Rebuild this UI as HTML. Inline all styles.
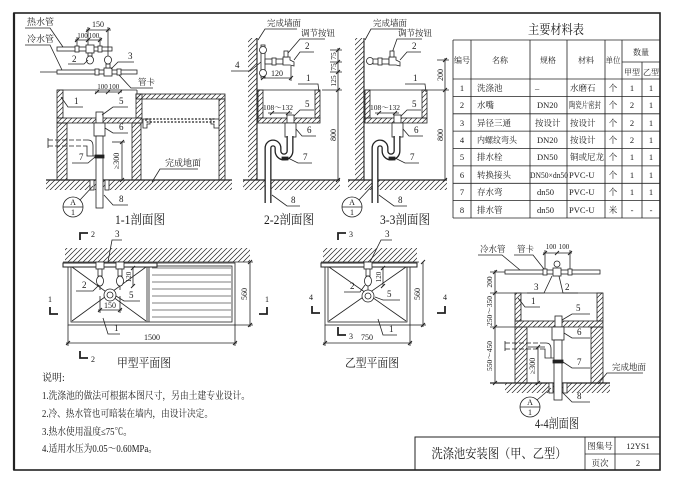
<!DOCTYPE html>
<html><head><meta charset="utf-8"><style>
html,body{margin:0;padding:0;background:#fff;}
svg{display:block;}
text{font-family:"Liberation Serif","Noto Serif CJK SC",serif;fill:#1a1a1a;stroke:none;}
.c{text-anchor:middle;}
</style></head><body>
<svg width="678" height="491" viewBox="0 0 678 491" xmlns="http://www.w3.org/2000/svg">
<defs>
<pattern id="h" patternUnits="userSpaceOnUse" width="5" height="5"><path d="M0,5 L5,0 M-1,1 L1,-1 M4,6 L6,4" stroke="#222" stroke-width="0.7"/></pattern>
</defs>
<rect width="678" height="491" fill="#fff"/>
<g stroke="#222" fill="none" stroke-width="0.8">
<!-- frame -->
<rect x="14" y="13" width="646" height="457" stroke-width="1.6"/>
<line x1="14" y1="13" x2="14" y2="470" stroke-width="2.2"/>

<!-- ============ 1-1 section ============ -->
<text x="27" y="25" font-size="9">热水管</text>
<polyline points="25,28 50,28 63,47"/>
<text x="27" y="42" font-size="9">冷水管</text>
<polyline points="25,45 50,45 62,70"/>
<line x1="40" y1="72" x2="57" y2="72"/>
<rect x="57" y="47" width="55" height="4" fill="#fff"/>
<rect x="57" y="70" width="80" height="4" fill="#fff"/>
<rect x="75" y="46" width="4" height="6" fill="#fff"/>
<rect x="98" y="46" width="4" height="6" fill="#fff"/>
<rect x="86" y="45" width="8" height="8" fill="#fff"/>
<rect x="95" y="69" width="4" height="6" fill="#fff"/>
<rect x="117" y="69" width="4" height="6" fill="#fff"/>
<rect x="104" y="68" width="8" height="8" fill="#fff"/>
<rect x="88" y="53" width="4" height="3" fill="#fff"/>
<ellipse cx="90" cy="60" rx="3.5" ry="4" fill="#fff"/>
<rect x="106" y="64" width="4" height="4" fill="#fff"/>
<ellipse cx="108" cy="60" rx="3.5" ry="4" fill="#fff"/>
<line x1="86" y1="30" x2="111" y2="30"/>
<line x1="88" y1="27" x2="88" y2="45"/>
<line x1="108" y1="27" x2="108" y2="56"/>
<text x="98" y="27" font-size="8" class="c">150</text>
<line x1="75" y1="40" x2="102" y2="40"/>
<line x1="77" y1="37" x2="77" y2="46"/>
<line x1="100" y1="37" x2="100" y2="46"/>
<text x="82.5" y="38" font-size="7" class="c">100</text>
<text x="94" y="38" font-size="7" class="c">100</text>
<path d="M86,32 l4,-4 M106,32 l4,-4 M75,42 l4,-4 M86,42 l4,-4 M98,42 l4,-4" stroke-width="1"/>
<text x="72" y="62" font-size="9">2</text>
<polyline points="68,64 84,64 88,60"/>
<text x="128" y="59" font-size="9">3</text>
<polyline points="134,62 118,62 111,69"/>
<text x="138" y="85" font-size="8.5">管卡</text>
<polyline points="153,88 131,88 119,75"/>
<line x1="95" y1="92" x2="122" y2="92"/>
<path d="M95,94 l4,-4 M106,94 l4,-4 M118,94 l4,-4" stroke-width="1"/>
<text x="102.5" y="89" font-size="7" class="c">100</text>
<text x="114" y="89" font-size="7" class="c">100</text>
<line x1="57" y1="90" x2="137" y2="90"/>
<line x1="137" y1="90" x2="137" y2="94"/>
<rect x="57" y="90" width="6" height="28" fill="url(#h)"/>
<rect x="57" y="118" width="85" height="5" fill="url(#h)"/>
<rect x="136" y="94" width="6" height="24" fill="url(#h)"/>
<rect x="136" y="94" width="89" height="5" fill="url(#h)"/>
<rect x="219" y="99" width="6" height="81" fill="url(#h)"/>
<rect x="57" y="123" width="10" height="57" fill="url(#h)"/>
<rect x="132" y="123" width="9" height="57" fill="url(#h)"/>
<rect x="146" y="119" width="68" height="3" stroke-dasharray="2,1.5" stroke-width="1.2"/>
<path d="M143,119 L150,119 L150,124 L147,124 L147,128 L143,128 Z M219,119 L211,119 L211,124 L214,124 L214,128 L219,128"/>
<rect x="46" y="180" width="186" height="10" fill="url(#h)" stroke="none"/>
<line x1="46" y1="180" x2="232" y2="180" stroke-width="1.2"/>
<rect x="96" y="112" width="7" height="11" fill="#fff"/>
<rect x="94" y="123" width="11" height="13" fill="#fff"/>
<rect x="96" y="136" width="7" height="72" fill="#fff"/>
<rect x="95" y="155" width="9" height="3" fill="#222"/>
<line x1="48" y1="140" x2="84" y2="140" stroke-dasharray="5,2"/>
<line x1="48" y1="146" x2="84" y2="146" stroke-dasharray="5,2"/>
<path d="M48,138 L48,148 M84,140 L88,140 Q93,140 93,146 L93,156 L96,156 M84,146 L87,146 L87,156 L96,156"/>
<rect x="90" y="180" width="4" height="10" fill="#fff"/>
<rect x="105" y="180" width="4" height="10" fill="#fff"/>
<line x1="122" y1="142" x2="122" y2="180"/>
<line x1="112" y1="142" x2="125" y2="142"/>
<path d="M120,144 l4,-4 M120,182 l4,-4" stroke-width="1"/>
<text transform="translate(119,161) rotate(-90)" font-size="8" class="c">≥300</text>
<text x="74" y="104" font-size="9">1</text>
<polyline points="83,107 68,107 61,97"/>
<text x="119" y="104" font-size="9">5</text>
<polyline points="128,107 113,107 102,115"/>
<text x="119" y="130" font-size="9">6</text>
<polyline points="128,133 113,133 105,128"/>
<text x="79" y="160" font-size="9">7</text>
<polyline points="72,163 88,163 95,157"/>
<text x="119" y="202" font-size="9">8</text>
<polyline points="128,205 113,205 104,195"/>
<text x="165" y="166" font-size="9">完成地面</text>
<polyline points="198,169 160,169 152,182"/>
<circle cx="73" cy="207" r="10" fill="#fff"/>
<line x1="63" y1="207" x2="83" y2="207"/>
<text x="73" y="205" font-size="8" class="c">A</text>
<text x="73" y="215" font-size="8" class="c">1</text>
<line x1="80" y1="200" x2="93" y2="186"/>
<text x="140" y="224" font-size="13" class="c" textLength="50" lengthAdjust="spacingAndGlyphs">1-1剖面图</text>
<text x="235" y="68" font-size="9">4</text>
<polyline points="231,71 250,71 261,62"/>

<!-- ============ 2-2 section ============ -->
<rect x="248" y="38" width="9" height="142" fill="url(#h)" stroke="none"/>
<line x1="257" y1="38" x2="257" y2="180" stroke-width="1.1"/>
<text x="267" y="26" font-size="8.5">完成墙面</text>
<polyline points="297,29 265,29 258,40"/>
<text x="301" y="36" font-size="8.5">调节按钮</text>
<polyline points="325,39 300,39 288,53"/>
<rect x="261" y="45" width="4" height="33" fill="#fff"/>
<circle cx="263" cy="50" r="3.5" fill="#fff"/>
<circle cx="263" cy="73" r="3.5" fill="#fff"/>
<rect x="265" y="59" width="18" height="5" fill="#fff"/>
<rect x="272" y="58" width="4" height="7" fill="#fff"/>
<path d="M283,57 L290,57 L290,60 L294,62 L294,66 L290,65 L283,65 Z" fill="#fff"/>
<rect x="284" y="51" width="4" height="6" fill="#fff"/>
<text x="305" y="49" font-size="9">2</text>
<polyline points="314,52 300,52 294,60"/>
<line x1="263" y1="78" x2="292" y2="78"/>
<line x1="291" y1="66" x2="291" y2="81"/>
<path d="M261,80 l4,-4 M289,80 l4,-4" stroke-width="1"/>
<text x="277" y="76" font-size="8" class="c">120</text>
<line x1="258" y1="90" x2="320" y2="90"/>
<rect x="258" y="90" width="5" height="28" fill="url(#h)"/>
<rect x="315" y="90" width="5" height="28" fill="url(#h)"/>
<rect x="258" y="118" width="62" height="5" fill="url(#h)"/>
<text x="306" y="81" font-size="9">1</text>
<polyline points="298,84 318,84 319,92"/>
<text x="278" y="110" font-size="7.5" class="c">108～132</text>
<line x1="268" y1="113" x2="292" y2="113"/>
<path d="M270,115 l4,-4 M286,115 l4,-4" stroke-width="1"/>
<text x="305" y="107" font-size="9">5</text>
<polyline points="314,110 300,110 293,117"/>
<rect x="243" y="180" width="97" height="10" fill="url(#h)" stroke="none"/>
<line x1="243" y1="180" x2="340" y2="180" stroke-width="1.2"/>
<rect x="287" y="115" width="7" height="8" fill="#fff"/>
<rect x="285" y="123" width="11" height="14" fill="#fff"/>
<path d="M290,136 L290,151 A6 6 0 0 1 278,151 L278,148 A5 5 0 0 0 268,148 L268,203" stroke-width="7"/>
<path d="M290,136 L290,151 A6 6 0 0 1 278,151 L278,148 A5 5 0 0 0 268,148 L268,203" stroke="#fff" stroke-width="4.4"/>
<rect x="282" y="157" width="6" height="3" fill="#222"/>
<text x="307" y="133" font-size="9">6</text>
<polyline points="316,136 302,136 296,129"/>
<text x="303" y="160" font-size="9">7</text>
<polyline points="312,163 298,163 288,158"/>
<text x="291" y="203" font-size="9">8</text>
<polyline points="300,206 287,206 272,195"/>
<line x1="338" y1="48" x2="338" y2="180"/>
<path d="M330,50 H342 M330,62 H342 M330,72 H342 M322,90 H342" />
<path d="M336,52 l4,-4 M336,64 l4,-4 M336,74 l4,-4 M336,92 l4,-4 M336,182 l4,-4" stroke-width="1"/>
<text transform="translate(336,56) rotate(-90)" font-size="7.5" class="c">75</text>
<text transform="translate(336,67) rotate(-90)" font-size="7.5" class="c">75</text>
<text transform="translate(336,81) rotate(-90)" font-size="7.5" class="c">125</text>
<text transform="translate(336,135) rotate(-90)" font-size="8" class="c">800</text>
<text x="289" y="224" font-size="13" class="c" textLength="50" lengthAdjust="spacingAndGlyphs">2-2剖面图</text>

<!-- ============ 3-3 section ============ -->
<rect x="355" y="38" width="9" height="142" fill="url(#h)" stroke="none"/>
<line x1="364" y1="38" x2="364" y2="180" stroke-width="1.1"/>
<text x="373" y="26" font-size="8.5">完成墙面</text>
<polyline points="403,29 371,29 365,40"/>
<text x="398" y="36" font-size="8.5">调节按钮</text>
<polyline points="422,39 397,39 392,53"/>
<circle cx="370" cy="61" r="3.5" fill="#fff"/>
<rect x="373" y="59" width="16" height="5" fill="#fff"/>
<rect x="378" y="58" width="4" height="7" fill="#fff"/>
<path d="M389,57 L396,57 L396,60 L400,62 L400,66 L396,65 L389,65 Z" fill="#fff"/>
<rect x="390" y="51" width="4" height="6" fill="#fff"/>
<text x="412" y="49" font-size="9">2</text>
<polyline points="421,52 407,52 400,60"/>
<line x1="365" y1="90" x2="427" y2="90"/>
<rect x="365" y="90" width="5" height="28" fill="url(#h)"/>
<rect x="422" y="90" width="5" height="28" fill="url(#h)"/>
<rect x="365" y="118" width="62" height="5" fill="url(#h)"/>
<text x="413" y="81" font-size="9">1</text>
<polyline points="405,84 425,84 426,92"/>
<text x="385" y="110" font-size="7.5" class="c">108～132</text>
<line x1="375" y1="113" x2="399" y2="113"/>
<path d="M377,115 l4,-4 M393,115 l4,-4" stroke-width="1"/>
<text x="412" y="107" font-size="9">5</text>
<polyline points="421,110 407,110 400,117"/>
<rect x="348" y="180" width="99" height="10" fill="url(#h)" stroke="none"/>
<line x1="348" y1="180" x2="447" y2="180" stroke-width="1.2"/>
<rect x="394" y="115" width="7" height="8" fill="#fff"/>
<rect x="392" y="123" width="11" height="14" fill="#fff"/>
<path d="M397,136 L397,151 A6 6 0 0 1 385,151 L385,148 A5 5 0 0 0 375,148 L375,203" stroke-width="7"/>
<path d="M397,136 L397,151 A6 6 0 0 1 385,151 L385,148 A5 5 0 0 0 375,148 L375,203" stroke="#fff" stroke-width="4.4"/>
<rect x="389" y="157" width="6" height="3" fill="#222"/>
<text x="414" y="133" font-size="9">6</text>
<polyline points="423,136 409,136 403,129"/>
<text x="410" y="160" font-size="9">7</text>
<polyline points="419,163 405,163 395,158"/>
<text x="398" y="203" font-size="9">8</text>
<polyline points="407,206 394,206 379,195"/>
<line x1="445" y1="58" x2="445" y2="180"/>
<path d="M437,60 H449 M427,90 H449"/>
<path d="M443,62 l4,-4 M443,92 l4,-4 M443,182 l4,-4" stroke-width="1"/>
<text transform="translate(443,75) rotate(-90)" font-size="8" class="c">200</text>
<text transform="translate(443,135) rotate(-90)" font-size="8" class="c">800</text>
<circle cx="352" cy="207" r="10" fill="#fff"/>
<line x1="342" y1="207" x2="362" y2="207"/>
<text x="352" y="205" font-size="8" class="c">A</text>
<text x="352" y="215" font-size="8" class="c">1</text>
<line x1="359" y1="200" x2="372" y2="186"/>
<text x="405" y="224" font-size="13" class="c" textLength="50" lengthAdjust="spacingAndGlyphs">3-3剖面图</text>

<!-- ============ Table ============ -->
<text x="556" y="34" font-size="13" class="c" textLength="56" lengthAdjust="spacingAndGlyphs">主要材料表</text>
<line x1="453" y1="40" x2="660" y2="40"/>
<line x1="453" y1="40" x2="453" y2="218"/>
<line x1="453" y1="218" x2="660" y2="218"/>
<line x1="453" y1="79" x2="660" y2="79"/>
<line x1="622" y1="62" x2="660" y2="62"/>
<path d="M471,40 V218 M530,40 V218 M567,40 V218 M605,40 V218 M622,40 V218 M642,62 V218"/>
<path d="M453,96.4 H660 M453,113.8 H660 M453,131.1 H660 M453,148.5 H660 M453,165.9 H660 M453,183.3 H660 M453,200.6 H660"/>
<g font-size="8">
<text x="462" y="63" class="c" textLength="16" lengthAdjust="spacingAndGlyphs">编号</text>
<text x="500" y="63" class="c">名称</text>
<text x="548" y="63" class="c">规格</text>
<text x="586" y="63" class="c">材料</text>
<text x="613" y="63" class="c" textLength="15" lengthAdjust="spacingAndGlyphs">单位</text>
<text x="641" y="55" class="c">数量</text>
<text x="632" y="75" class="c" textLength="16" lengthAdjust="spacingAndGlyphs">甲型</text>
<text x="651" y="75" class="c" textLength="16" lengthAdjust="spacingAndGlyphs">乙型</text>
</g>
<g font-size="8.5">
<text x="462" y="91" class="c">1</text><text x="477" y="91">洗涤池</text><text x="535" y="91">–</text><text x="570" y="91">水磨石</text><text x="613" y="91" class="c">个</text><text x="632" y="91" class="c">1</text><text x="651" y="91" class="c">1</text>
<text x="462" y="108" class="c">2</text><text x="477" y="108">水嘴</text><text x="537" y="108">DN20</text><text x="569" y="108" textLength="32" lengthAdjust="spacingAndGlyphs">陶瓷片密封</text><text x="613" y="108" class="c">个</text><text x="632" y="108" class="c">2</text><text x="651" y="108" class="c">1</text>
<text x="462" y="126" class="c">3</text><text x="477" y="126">异径三通</text><text x="535" y="126">按设计</text><text x="570" y="126">按设计</text><text x="613" y="126" class="c">个</text><text x="632" y="126" class="c">2</text><text x="651" y="126" class="c">1</text>
<text x="462" y="143" class="c">4</text><text x="477" y="143" textLength="40" lengthAdjust="spacingAndGlyphs">内螺纹弯头</text><text x="537" y="143">DN20</text><text x="570" y="143">按设计</text><text x="613" y="143" class="c">个</text><text x="632" y="143" class="c">2</text><text x="651" y="143" class="c">1</text>
<text x="462" y="160" class="c">5</text><text x="477" y="160">排水栓</text><text x="537" y="160">DN50</text><text x="570" y="160">铜或尼龙</text><text x="613" y="160" class="c">个</text><text x="632" y="160" class="c">1</text><text x="651" y="160" class="c">1</text>
<text x="462" y="178" class="c">6</text><text x="477" y="178">转换接头</text><text x="530" y="178" textLength="38" lengthAdjust="spacingAndGlyphs">DN50×dn50</text><text x="569" y="178">PVC-U</text><text x="613" y="178" class="c">个</text><text x="632" y="178" class="c">1</text><text x="651" y="178" class="c">1</text>
<text x="462" y="195" class="c">7</text><text x="477" y="195">存水弯</text><text x="537" y="195">dn50</text><text x="569" y="195">PVC-U</text><text x="613" y="195" class="c">个</text><text x="632" y="195" class="c">1</text><text x="651" y="195" class="c">1</text>
<text x="462" y="213" class="c">8</text><text x="477" y="213">排水管</text><text x="537" y="213">dn50</text><text x="569" y="213">PVC-U</text><text x="613" y="213" class="c">米</text><text x="632" y="213" class="c">-</text><text x="651" y="213" class="c">-</text>
</g>

<!-- ============ 甲型 plan ============ -->
<path d="M80,240 V233 H88" stroke-width="1.8"/>
<text x="91" y="237" font-size="8">2</text>
<rect x="65" y="248" width="185" height="14" fill="url(#h)" stroke="none"/>
<line x1="63" y1="262" x2="253" y2="262"/>
<rect x="68" y="263" width="167" height="62"/>
<rect x="71" y="266" width="161" height="56"/>
<line x1="147" y1="266" x2="147" y2="322"/>
<line x1="149" y1="266" x2="149" y2="322"/>
<path d="M72,267 L146,321 M146,267 L72,321"/>
<path d="M152,268 H231 M152,275 H231 M152,282 H231 M152,289 H231 M152,296 H231 M152,303 H231 M152,310 H231 M152,317 H231" stroke="#555"/>
<rect x="63" y="263" width="94" height="4" fill="#fff" stroke-width="1"/>
<rect x="96" y="262" width="8" height="7" fill="#fff"/>
<rect x="116" y="262" width="8" height="7" fill="#fff"/>
<rect x="98" y="269" width="4" height="7" fill="#fff"/>
<rect x="118" y="269" width="4" height="7" fill="#fff"/>
<ellipse cx="100" cy="281" rx="3.5" ry="5" fill="#fff"/>
<ellipse cx="120" cy="281" rx="3.5" ry="5" fill="#fff"/>
<line x1="100" y1="286" x2="100" y2="290"/>
<line x1="120" y1="286" x2="120" y2="290"/>
<circle cx="110" cy="295" r="6" fill="#fff"/>
<circle cx="110" cy="295" r="3" />
<text x="115" y="237" font-size="9">3</text>
<polyline points="122,240 112,240 108,262"/>
<line x1="133" y1="268" x2="133" y2="286"/>
<path d="M131,270 l4,-4 M131,288 l4,-4" stroke-width="1"/>
<text transform="translate(131,277) rotate(-90)" font-size="7" class="c">120</text>
<text x="82" y="288" font-size="9">2</text>
<polyline points="76,291 93,291 99,285"/>
<text x="129" y="298" font-size="9">5</text>
<polyline points="140,301 124,301 116,296"/>
<line x1="100" y1="296" x2="100" y2="313"/>
<line x1="120" y1="296" x2="120" y2="313"/>
<line x1="98" y1="310" x2="122" y2="310"/>
<path d="M98,312 l4,-4 M118,312 l4,-4" stroke-width="1"/>
<text x="110" y="308" font-size="8" class="c">150</text>
<text x="114" y="331" font-size="9">1</text>
<polyline points="120,334 108,334 103,318"/>
<text x="48" y="302" font-size="8">1</text>
<path d="M50,307 V314 H58" stroke-width="1.8"/>
<text x="265" y="302" font-size="8">1</text>
<path d="M259,314 H267 V307" stroke-width="1.8"/>
<line x1="250" y1="262" x2="250" y2="327"/>
<line x1="235" y1="325" x2="253" y2="325"/>
<path d="M248,264 l4,-4 M248,327 l4,-4" stroke-width="1"/>
<text transform="translate(247,294) rotate(-90)" font-size="8" class="c">560</text>
<line x1="66" y1="343" x2="237" y2="343"/>
<line x1="68" y1="325" x2="68" y2="346"/>
<line x1="235" y1="325" x2="235" y2="346"/>
<path d="M66,345 l4,-4 M233,345 l4,-4" stroke-width="1"/>
<text x="152" y="340" font-size="8" class="c">1500</text>
<path d="M80,351 V358 H88" stroke-width="1.8"/>
<text x="91" y="362" font-size="8">2</text>
<text x="144" y="367" font-size="12" class="c" textLength="54" lengthAdjust="spacingAndGlyphs">甲型平面图</text>

<!-- ============ 乙型 plan ============ -->
<path d="M338,240 V233 H346" stroke-width="1.8"/>
<text x="349" y="237" font-size="8">3</text>
<rect x="323" y="248" width="94" height="14" fill="url(#h)" stroke="none"/>
<line x1="321" y1="262" x2="419" y2="262"/>
<rect x="325" y="263" width="85" height="62"/>
<rect x="328" y="266" width="79" height="56"/>
<path d="M329,267 L406,321 M406,267 L329,321"/>
<rect x="321" y="263" width="96" height="4" fill="#fff" stroke-width="1"/>
<rect x="364" y="262" width="8" height="7" fill="#fff"/>
<rect x="366" y="269" width="4" height="7" fill="#fff"/>
<ellipse cx="368" cy="281" rx="3.5" ry="5" fill="#fff"/>
<line x1="368" y1="286" x2="368" y2="290"/>
<circle cx="368" cy="296" r="6" fill="#fff"/>
<circle cx="368" cy="296" r="3"/>
<text x="385" y="237" font-size="9">3</text>
<polyline points="392,240 381,240 370,262"/>
<line x1="383" y1="268" x2="383" y2="286"/>
<path d="M381,270 l4,-4 M381,288 l4,-4" stroke-width="1"/>
<text transform="translate(381,277) rotate(-90)" font-size="7" class="c">120</text>
<text x="350" y="289" font-size="9">2</text>
<polyline points="344,292 360,292 365,285"/>
<text x="387" y="297" font-size="9">5</text>
<polyline points="400,300 383,300 375,297"/>
<text x="389" y="332" font-size="9">1</text>
<polyline points="397,335 383,335 378,319"/>
<text x="309" y="300" font-size="8">4</text>
<path d="M312,306 V313 H320" stroke-width="1.8"/>
<text x="443" y="300" font-size="8">4</text>
<path d="M437,313 H445 V306" stroke-width="1.8"/>
<line x1="423" y1="262" x2="423" y2="327"/>
<line x1="410" y1="325" x2="426" y2="325"/>
<path d="M421,264 l4,-4 M421,327 l4,-4" stroke-width="1"/>
<text transform="translate(420,294) rotate(-90)" font-size="8" class="c">560</text>
<path d="M338,327 V335 H346" stroke-width="1.8"/>
<text x="349" y="339" font-size="8">3</text>
<line x1="323" y1="343" x2="412" y2="343"/>
<line x1="325" y1="325" x2="325" y2="346"/>
<line x1="410" y1="325" x2="410" y2="346"/>
<path d="M323,345 l4,-4 M408,345 l4,-4" stroke-width="1"/>
<text x="367" y="340" font-size="8" class="c">750</text>
<text x="372" y="367" font-size="12" class="c" textLength="54" lengthAdjust="spacingAndGlyphs">乙型平面图</text>

<!-- ============ 4-4 section ============ -->
<text x="480" y="252" font-size="8.5">冷水管</text>
<polyline points="478,255 502,255 520,270"/>
<text x="517" y="252" font-size="8.5">管卡</text>
<polyline points="514,255 533,255 544,269"/>
<text x="551" y="249" font-size="7" class="c">100</text>
<text x="564" y="249" font-size="7" class="c">100</text>
<line x1="543" y1="253" x2="572" y2="253"/>
<line x1="545" y1="250" x2="545" y2="270"/>
<line x1="570" y1="250" x2="570" y2="270"/>
<path d="M543,255 l4,-4 M555,255 l4,-4 M568,255 l4,-4" stroke-width="1"/>
<rect x="505" y="270" width="95" height="4" fill="#fff"/>
<rect x="543" y="269" width="4" height="6" fill="#fff"/>
<rect x="568" y="269" width="4" height="6" fill="#fff"/>
<rect x="553" y="268" width="8" height="8" fill="#fff"/>
<circle cx="557" cy="264" r="3" fill="#fff"/>
<text x="534" y="290" font-size="9">3</text>
<polyline points="527,293 544,293 552,276"/>
<text x="565" y="290" font-size="9">2</text>
<polyline points="578,293 563,293 559,276"/>
<line x1="495" y1="270" x2="495" y2="383"/>
<path d="M490,272 H505 M490,293 H515 M490,327 H515"/>
<path d="M493,274 l4,-4 M493,295 l4,-4 M493,329 l4,-4 M493,385 l4,-4" stroke-width="1"/>
<text transform="translate(492,282) rotate(-90)" font-size="7.5" class="c">200</text>
<text transform="translate(492,311) rotate(-90)" font-size="7.5" class="c">250～350</text>
<text transform="translate(492,356) rotate(-90)" font-size="7.5" class="c">550～450</text>
<line x1="515" y1="293" x2="603" y2="293"/>
<rect x="515" y="293" width="6" height="28" fill="url(#h)"/>
<rect x="597" y="293" width="6" height="28" fill="url(#h)"/>
<rect x="515" y="321" width="88" height="6" fill="url(#h)"/>
<rect x="515" y="327" width="12" height="56" fill="url(#h)"/>
<rect x="591" y="327" width="12" height="56" fill="url(#h)"/>
<rect x="505" y="383" width="105" height="10" fill="url(#h)" stroke="none"/>
<line x1="490" y1="383" x2="610" y2="383" stroke-width="1.2"/>
<rect x="555" y="316" width="7" height="11" fill="#fff"/>
<rect x="552" y="327" width="12" height="13" fill="#fff"/>
<rect x="554" y="340" width="8" height="60" fill="#fff"/>
<rect x="553" y="360" width="10" height="3" fill="#222"/>
<line x1="505" y1="343" x2="540" y2="343" stroke-dasharray="5,2"/>
<line x1="505" y1="349" x2="540" y2="349" stroke-dasharray="5,2"/>
<path d="M505,341 V351 M540,343 L546,343 Q551,343 551,349 L551,358 L554,358 M540,349 L545,349 L545,358 L554,358"/>
<rect x="549" y="383" width="4" height="10" fill="#fff"/>
<rect x="563" y="383" width="4" height="10" fill="#fff"/>
<line x1="538" y1="347" x2="538" y2="383"/>
<line x1="528" y1="347" x2="545" y2="347"/>
<path d="M536,349 l4,-4 M536,385 l4,-4" stroke-width="1"/>
<text transform="translate(535,366) rotate(-90)" font-size="8" class="c">≥300</text>
<text x="531" y="304" font-size="9">1</text>
<polyline points="540,307 525,307 518,298"/>
<text x="576" y="311" font-size="9">5</text>
<polyline points="590,314 572,314 562,320"/>
<text x="577" y="335" font-size="9">6</text>
<polyline points="590,338 572,338 564,333"/>
<text x="577" y="365" font-size="9">7</text>
<polyline points="590,368 572,368 563,362"/>
<text x="577" y="399" font-size="9">8</text>
<polyline points="590,402 572,402 563,393"/>
<text x="612" y="370" font-size="8.5">完成地面</text>
<polyline points="643,373 607,373 598,384"/>
<circle cx="530" cy="407" r="10" fill="#fff"/>
<line x1="520" y1="407" x2="540" y2="407"/>
<text x="530" y="405" font-size="8" class="c">A</text>
<text x="530" y="415" font-size="8" class="c">1</text>
<line x1="537" y1="400" x2="551" y2="388"/>
<text x="557" y="428" font-size="13" class="c" textLength="44" lengthAdjust="spacingAndGlyphs">4-4剖面图</text>

<!-- ============ notes ============ -->
<g font-size="10">
<text x="42" y="381">说明:</text>
<text x="42" y="399" textLength="208" lengthAdjust="spacingAndGlyphs">1.洗涤池的做法可根据本图尺寸，另由土建专业设计。</text>
<text x="42" y="417" textLength="171" lengthAdjust="spacingAndGlyphs">2.冷、热水管也可暗装在墙内，由设计决定。</text>
<text x="42" y="435" textLength="90" lengthAdjust="spacingAndGlyphs">3.热水使用温度≤75℃。</text>
<text x="42" y="452" textLength="115" lengthAdjust="spacingAndGlyphs">4.适用水压为0.05～0.60MPa。</text>
</g>

<!-- ============ title block ============ -->
<rect x="415" y="437" width="245" height="33" stroke-width="1"/>
<line x1="585" y1="437" x2="585" y2="470"/>
<line x1="615" y1="437" x2="615" y2="470"/>
<line x1="585" y1="454" x2="660" y2="454"/>
<text x="499" y="458" font-size="13" class="c" textLength="135" lengthAdjust="spacingAndGlyphs">洗涤池安装图（甲、乙型）</text>
<text x="600" y="449" font-size="8.5" class="c">图集号</text>
<text x="638" y="449" font-size="8.5" class="c">12YS1</text>
<text x="600" y="466" font-size="8.5" class="c">页次</text>
<text x="638" y="466" font-size="8.5" class="c">2</text>
</g>
</svg>
</body></html>
